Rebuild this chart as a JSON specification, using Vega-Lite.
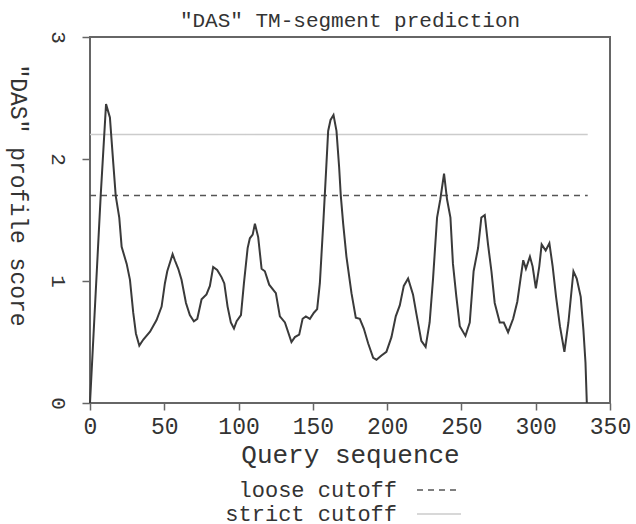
{
  "$schema": "https://vega.github.io/schema/vega-lite/v6.json",
  "width": 520,
  "height": 366,
  "autosize": {"type": "none"},
  "padding": {"left": 90, "top": 37, "right": 26, "bottom": 121},
  "background": "white",
  "title": {
    "text": "\"DAS\" TM-segment prediction",
    "font": "Liberation Mono",
    "fontSize": 21,
    "fontWeight": "normal",
    "color": "#333",
    "anchor": "middle",
    "frame": "group",
    "offset": 0,
    "dy": 0
  },
  "config": {
    "view": {"stroke": "#666", "strokeWidth": 2},
    "font": "Liberation Mono"
  },
  "datasets": {
    "profile": [
      {"pos": 0, "score": 0}, {"pos": 7.2, "score": 1.7}, {"pos": 10.8, "score": 2.45}, {"pos": 13.4, "score": 2.34},
      {"pos": 15.7, "score": 1.96}, {"pos": 17.3, "score": 1.7}, {"pos": 19.7, "score": 1.52}, {"pos": 21.3, "score": 1.28},
      {"pos": 24.7, "score": 1.14}, {"pos": 26.9, "score": 1.01}, {"pos": 29.1, "score": 0.74}, {"pos": 30.9, "score": 0.57},
      {"pos": 33.2, "score": 0.47}, {"pos": 35.9, "score": 0.52}, {"pos": 40.4, "score": 0.585}, {"pos": 44.8, "score": 0.68},
      {"pos": 48.2, "score": 0.79}, {"pos": 50.4, "score": 0.98}, {"pos": 52.0, "score": 1.08}, {"pos": 55.6, "score": 1.22},
      {"pos": 57.1, "score": 1.17}, {"pos": 59.4, "score": 1.1}, {"pos": 61.6, "score": 1.01}, {"pos": 64.6, "score": 0.82},
      {"pos": 67.2, "score": 0.72}, {"pos": 69.9, "score": 0.67}, {"pos": 72.2, "score": 0.69}, {"pos": 75.1, "score": 0.85},
      {"pos": 78.4, "score": 0.89}, {"pos": 80.7, "score": 0.96}, {"pos": 82.9, "score": 1.115}, {"pos": 85.6, "score": 1.09},
      {"pos": 88.6, "score": 1.03}, {"pos": 90.4, "score": 0.98}, {"pos": 92.6, "score": 0.79}, {"pos": 94.8, "score": 0.66},
      {"pos": 96.9, "score": 0.61}, {"pos": 98.7, "score": 0.67}, {"pos": 101.6, "score": 0.72}, {"pos": 103.6, "score": 0.98},
      {"pos": 106.1, "score": 1.27}, {"pos": 107.6, "score": 1.35}, {"pos": 109.5, "score": 1.38}, {"pos": 111.0, "score": 1.47},
      {"pos": 113.2, "score": 1.36}, {"pos": 115.5, "score": 1.1}, {"pos": 117.7, "score": 1.08}, {"pos": 120.6, "score": 0.97},
      {"pos": 125.1, "score": 0.9}, {"pos": 127.8, "score": 0.71}, {"pos": 131.2, "score": 0.66}, {"pos": 135.6, "score": 0.5},
      {"pos": 137.9, "score": 0.54}, {"pos": 140.8, "score": 0.56}, {"pos": 143.1, "score": 0.69}, {"pos": 145.3, "score": 0.71},
      {"pos": 148.0, "score": 0.69}, {"pos": 150.7, "score": 0.74}, {"pos": 152.9, "score": 0.77}, {"pos": 154.7, "score": 0.98},
      {"pos": 157.0, "score": 1.47}, {"pos": 158.8, "score": 1.88}, {"pos": 160.3, "score": 2.23}, {"pos": 161.9, "score": 2.32},
      {"pos": 163.9, "score": 2.36}, {"pos": 165.9, "score": 2.23}, {"pos": 167.7, "score": 1.93}, {"pos": 168.8, "score": 1.7},
      {"pos": 170.4, "score": 1.47}, {"pos": 172.6, "score": 1.2}, {"pos": 176.0, "score": 0.9}, {"pos": 178.9, "score": 0.7},
      {"pos": 181.6, "score": 0.69}, {"pos": 184.3, "score": 0.61}, {"pos": 187.2, "score": 0.49}, {"pos": 190.6, "score": 0.37},
      {"pos": 192.8, "score": 0.355}, {"pos": 196.2, "score": 0.39}, {"pos": 199.5, "score": 0.42}, {"pos": 202.9, "score": 0.54},
      {"pos": 205.8, "score": 0.71}, {"pos": 208.5, "score": 0.8}, {"pos": 211.2, "score": 0.96}, {"pos": 214.1, "score": 1.02},
      {"pos": 217.4, "score": 0.89}, {"pos": 219.7, "score": 0.73}, {"pos": 223.0, "score": 0.51}, {"pos": 225.9, "score": 0.46},
      {"pos": 228.6, "score": 0.66}, {"pos": 230.9, "score": 1.02}, {"pos": 233.6, "score": 1.52}, {"pos": 235.8, "score": 1.67},
      {"pos": 238.3, "score": 1.88}, {"pos": 240.3, "score": 1.67}, {"pos": 242.6, "score": 1.52}, {"pos": 244.3, "score": 1.14},
      {"pos": 246.6, "score": 0.87}, {"pos": 248.9, "score": 0.63}, {"pos": 252.7, "score": 0.55}, {"pos": 255.6, "score": 0.66},
      {"pos": 258.2, "score": 1.08}, {"pos": 261.2, "score": 1.27}, {"pos": 263.4, "score": 1.52}, {"pos": 265.7, "score": 1.54},
      {"pos": 267.9, "score": 1.3}, {"pos": 270.2, "score": 1.08}, {"pos": 272.4, "score": 0.82}, {"pos": 275.8, "score": 0.66},
      {"pos": 278.5, "score": 0.66}, {"pos": 281.4, "score": 0.58}, {"pos": 284.8, "score": 0.69}, {"pos": 287.6, "score": 0.83},
      {"pos": 289.8, "score": 1.02}, {"pos": 291.6, "score": 1.17}, {"pos": 293.4, "score": 1.1}, {"pos": 296.1, "score": 1.2},
      {"pos": 297.9, "score": 1.12}, {"pos": 300.1, "score": 0.94}, {"pos": 302.4, "score": 1.12}, {"pos": 304.0, "score": 1.3},
      {"pos": 306.7, "score": 1.25}, {"pos": 309.2, "score": 1.31}, {"pos": 311.4, "score": 1.12}, {"pos": 313.7, "score": 0.87},
      {"pos": 316.3, "score": 0.63}, {"pos": 319.3, "score": 0.42}, {"pos": 322.0, "score": 0.66}, {"pos": 325.4, "score": 1.08},
      {"pos": 327.6, "score": 1.02}, {"pos": 330.3, "score": 0.87}, {"pos": 332.1, "score": 0.6}, {"pos": 333.5, "score": 0.33},
      {"pos": 334.4, "score": 0}
    ],
    "cutoffs": [
      {"cutoff": "loose cutoff", "level": 1.7, "start": 0, "end": 335},
      {"cutoff": "strict cutoff", "level": 2.2, "start": 0, "end": 335}
    ]
  },
  "layer": [
    {
      "data": {"name": "cutoffs"},
      "mark": {"type": "rule", "strokeWidth": 1.5},
      "encoding": {
        "x": {"field": "start", "type": "quantitative", "scale": {"domain": [0, 350]}},
        "x2": {"field": "end"},
        "y": {"field": "level", "type": "quantitative", "scale": {"domain": [0, 3]}},
        "color": {
          "field": "cutoff", "type": "nominal",
          "scale": {"domain": ["loose cutoff", "strict cutoff"], "range": ["#555555", "#cccccc"]},
          "legend": {
            "title": null,
            "orient": "none",
            "direction": "vertical",
            "legendX": 337,
            "legendY": 441,
            "symbolType": "M-2,0H2",
            "symbolSize": 484,
            "symbolStrokeWidth": 1.5,
            "labelFont": "Liberation Mono",
            "labelFontSize": 22,
            "labelColor": "#333",
            "labelAlign": "right",
            "labelOffset": -54,
            "labelLimit": 400,
            "rowPadding": 1
          }
        },
        "strokeDash": {
          "field": "cutoff", "type": "nominal",
          "scale": {"domain": ["loose cutoff", "strict cutoff"], "range": [[6, 5], [1, 0]]},
          "legend": null
        }
      }
    },
    {
      "data": {"name": "profile"},
      "mark": {"type": "line", "color": "#3a3a3a", "strokeWidth": 2},
      "encoding": {
        "x": {
          "field": "pos", "type": "quantitative",
          "scale": {"domain": [0, 350], "nice": false},
          "axis": {
            "title": "Query sequence",
            "values": [0, 50, 100, 150, 200, 250, 300, 350],
            "grid": false,
            "domain": false,
            "tickColor": "#666",
            "tickWidth": 1.5,
            "tickSize": 7,
            "labelFont": "Liberation Mono",
            "labelFontSize": 23,
            "labelColor": "#333",
            "labelPadding": 5,
            "labelFlush": false,
            "labelOverlap": false,
            "titleFont": "Liberation Mono",
            "titleFontSize": 26,
            "titleFontWeight": "normal",
            "titleColor": "#333",
            "titlePadding": 3
          }
        },
        "y": {
          "field": "score", "type": "quantitative",
          "scale": {"domain": [0, 3], "nice": false},
          "axis": {
            "title": "\"DAS\" profile score",
            "values": [0, 1, 2, 3],
            "format": "d",
            "grid": false,
            "domain": false,
            "tickColor": "#666",
            "tickWidth": 1.5,
            "tickSize": 8,
            "labelAngle": 90,
            "labelAlign": "center",
            "labelBaseline": "top",
            "labelFont": "Liberation Mono",
            "labelFontSize": 21,
            "labelColor": "#333",
            "labelPadding": 14,
            "labelFlush": false,
            "labelOverlap": false,
            "titleFont": "Liberation Mono",
            "titleFontSize": 23,
            "titleFontWeight": "normal",
            "titleColor": "#333",
            "titleAngle": 90,
            "titleAlign": "center",
            "titleBaseline": "middle",
            "titleX": -73,
            "titleY": 158
          }
        }
      }
    }
  ]
}
